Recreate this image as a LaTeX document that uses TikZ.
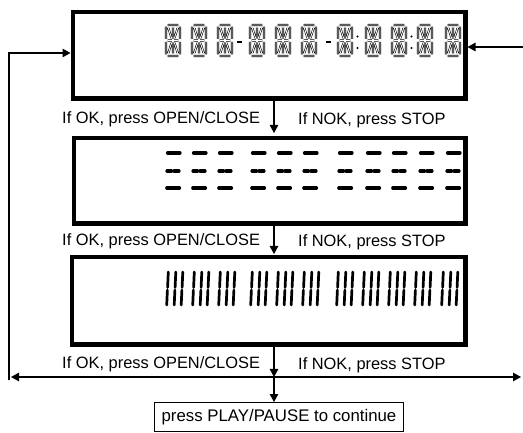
\documentclass[tikz,border=0pt]{standalone}
\usepackage{fontspec}
\setmainfont{Liberation Sans}
\usetikzlibrary{arrows.meta}

% one 14-segment digit cell, 14 x 31, top-left corner at (#1,#2)
\newcommand\segdig[2]{%
  \begin{scope}[shift={(#1,#2)}]
    \draw[seg] (1.6,0)--(12.4,0) (1.6,31)--(12.4,31)
      (1.6,15.5)--(5.9,15.5) (8.1,15.5)--(12.4,15.5)
      (0,1.6)--(0,14) (0,17)--(0,29.4) (14,1.6)--(14,14) (14,17)--(14,29.4)
      (7,2.6)--(7,13.6) (7,17.4)--(7,28.4)
      (2.3,2.9)--(5.6,13.2) (11.7,2.9)--(8.4,13.2)
      (2.3,28.1)--(5.6,17.8) (11.7,28.1)--(8.4,17.8);
  \end{scope}}

% blank cell: three rows of dashes
\newcommand\dashdig[2]{%
  \begin{scope}[shift={(#1,#2)}]
    \draw[dsh] (1.5,0)--(14,0);
    \draw[dsh] (1,18)--(5.5,18) (8,18)--(13,18);
    \draw[dsh] (0.8,35)--(13.5,35);
  \end{scope}}

% cell showing its three vertical bars
\newcommand\bardig[2]{%
  \begin{scope}[shift={(#1,#2)}]
    \foreach \o in {0.5,8,15}{
      \draw[barseg] (\o+0.8,0)--(\o+0.1,15.5);
      \draw[barseg] (\o-0.1,18)--(\o-0.8,33);
    }
  \end{scope}}

\tikzset{
  seg/.style={draw=black, line width=0.6pt, double=white, double distance=0.9pt},
  dsh/.style={line width=3.2pt, line cap=round},
  barseg/.style={line width=2.7pt, line cap=round},
  lcd/.style={draw, line width=4.5pt, inner sep=0pt},
  lbl/.style={font=\fontsize{16.4}{19}\selectfont, inner sep=0pt},
  arr/.style={line width=1.2pt, -{Triangle[length=8pt,width=8.5pt]}},
  darr/.style={line width=1.2pt, {Triangle[length=8pt,width=8.5pt]}-{Triangle[length=8pt,width=8.5pt]}}
}

\begin{document}
\begin{tikzpicture}[x=1pt,y=-1pt]
  \useasboundingbox (0,0) rectangle (523,433);

  % the three display panels
  \node[lcd, minimum width=392.5pt, minimum height=86.5pt] (b1) at (269,55.5) {};
  \node[lcd, minimum width=391.5pt, minimum height=85.5pt] (b2) at (269.5,181) {};
  \node[lcd, minimum width=393.5pt, minimum height=87.5pt] (b3) at (268.5,301) {};

  % panel 1: all segments in outline
  \foreach \x in {166,192,218,250,276,302,338,366,392,418,446}{\segdig{\x}{25}}
  \fill (236.5,41) rectangle (241.5,43);
  \fill (325.5,41) rectangle (330.5,43);
  \fill (357.5,36.5) circle (1.1pt) (357.5,48) circle (1.1pt);
  \fill (411.5,36.5) circle (1.1pt) (411.5,48) circle (1.1pt);

  % panel 2: dashes
  \foreach \x in {166,192,218,251,277,303,338,366,392,419,446}{\dashdig{\x}{153}}

  % panel 3: vertical bars
  \foreach \x in {167,193,219,251,277,303,337,363,389,415,442}{\bardig{\x}{272}}

  % branch labels
  \node[lbl, anchor=base west] (ok1) at (62,124) {If OK, press OPEN/CLOSE};
  \node[lbl, anchor=base west] (nok1) at (298,125) {If NOK, press STOP};
  \node[lbl, anchor=base west] (ok2) at (62,246) {If OK, press OPEN/CLOSE};
  \node[lbl, anchor=base west] (nok2) at (298,247) {If NOK, press STOP};
  \node[lbl, anchor=base west] (ok3) at (62,368) {If OK, press OPEN/CLOSE};
  \node[lbl, anchor=base west] (nok3) at (298,370) {If NOK, press STOP};

  % final prompt
  \node[draw, line width=1pt, minimum width=249pt, minimum height=29pt, inner sep=0pt,
        font=\fontsize{16.8}{19}\selectfont] (play) at (279,417) {press PLAY/PAUSE to continue};

  % flow
  \coordinate (tap) at (274,0);
  \coordinate (hl) at (11,377);
  \coordinate (hr) at (521,377);
  \coordinate (loopbot) at (9,380);
  \coordinate (loopin) at (9,53);
  \coordinate (rin) at (523,47);

  \draw[arr, shorten >=3pt] (b1.south -| tap) -- (b2.north -| tap);
  \draw[arr, shorten >=1pt] (b2.south -| tap) -- (b3.north -| tap);
  \draw[arr] (b3.south -| tap) -- (tap |- hl);
  \draw[arr] (tap |- hl) -- (play.north -| tap);
  \draw[darr] (hl) -- (hr);
  \draw[arr] (loopbot) -- (loopin) -- (loopin -| b1.west);
  \draw[arr] (rin) -- (rin -| b1.east);
\end{tikzpicture}
\end{document}
